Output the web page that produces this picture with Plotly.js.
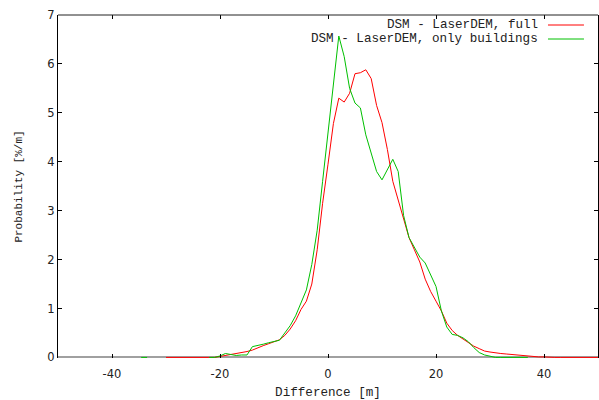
<!DOCTYPE html>
<html>
<head>
<meta charset="utf-8">
<script src="https://cdn.plot.ly/plotly-3.0.1.min.js"></script>
<style>html,body{margin:0;padding:0;background:#fff;}#chart{width:599px;height:400px;}</style>
</head>
<body>
<div id="chart"></div>
<script>
// Difference [m] (x) and probability [%/m] (y)
var fullX = [-30,-29,-28,-27,-26,-25,-24,-23,-22,-21,-20,-19,-18,-17,-16,-15,-14,-13,-12,-11,-10,-9,-8,-7,-6,-5,-4,-3,-2,-1,0,1,2,3,4,5,6,7,8,9,10,11,12,13,14,15,16,17,18,19,20,21,22,23,24,25,26,27,28,29,30,31,32,33,34,35,36,37,38,39,40,41,42,43,44,45,46,47,48,49,50];
var fullY = [0,0,0,0,0,0,0,0,0,0,0.02,0.04,0.06,0.08,0.09,0.12,0.15,0.2,0.24,0.28,0.32,0.36,0.45,0.58,0.75,0.98,1.15,1.5,2.2,3.15,3.95,4.78,5.3,5.22,5.4,5.8,5.82,5.88,5.7,5.15,4.8,4.25,3.6,3.2,2.8,2.45,2.2,1.95,1.6,1.35,1.15,0.95,0.7,0.55,0.45,0.38,0.3,0.23,0.18,0.13,0.11,0.09,0.08,0.07,0.06,0.04,0.03,0.02,0.02,0.01,0.01,0,0,0,0,0,0,0,0,0,0];
var bldX = [-34.6,-33.5,null,-22,-21,-20,-19,-18,-17,-16,-15,-14,-13,-12,-11,-10,-9,-8,-7,-6,-5,-4,-3,-2,-1,0,1,2,3,4,5,6,7,8,9,10,11,12,13,14,15,16,17,18,19,20,21,22,23,24,25,26,27,28,29,30,31,32,33,34,35,36,37];
var bldY = [0,0,null,0,0,0.03,0.08,0.06,0.04,0.05,0.05,0.22,0.24,0.27,0.3,0.33,0.35,0.5,0.65,0.85,1.1,1.38,1.9,2.6,3.6,4.6,5.6,6.57,6.15,5.5,5.2,5.1,4.55,4.15,3.8,3.63,3.85,4.05,3.8,2.9,2.45,2.25,2.05,1.93,1.7,1.45,0.95,0.62,0.47,0.45,0.4,0.32,0.2,0.1,0.05,0.02,0,0,0,0,0,0,0];
var seriesNames = ["DSM - LaserDEM, full", "DSM - LaserDEM, only buildings"];
var seriesColors = ["#ff0000", "#00c000"];
var xTickVals = [-40,-20,0,20,40];
var xTickText = ["-40","-20","0","20","40"];
var yTickVals = [0,1,2,3,4,5,6,7];

var traces = [
  {x: fullX, y: fullY, name: seriesNames[0], mode: "lines", line: {color: seriesColors[0], width: 1}, connectgaps: false, showlegend: false},
  {x: bldX, y: bldY, name: seriesNames[1], mode: "lines", line: {color: seriesColors[1], width: 1}, connectgaps: false, showlegend: false}
];

var monoFont = "'Liberation Mono', 'DejaVu Sans Mono', monospace";
var legX = 0.8926, legL0 = 0.9074, legL1 = 0.974, legY = [0.9708, 0.930];
var annotations = [], shapes = [];
for (var i = 0; i < seriesNames.length; i++) {
  annotations.push({xref: "paper", yref: "paper", x: legX, y: legY[i], text: seriesNames[i], showarrow: false,
    xanchor: "right", yanchor: "middle", font: {family: monoFont, size: 12.6, color: "#222"}});
  shapes.push({type: "line", xref: "paper", yref: "paper", x0: legL0, x1: legL1, y0: legY[i], y1: legY[i],
    line: {color: seriesColors[i], width: 1}});
}
shapes.push({type: "line", xref: "paper", yref: "paper", x0: 0, x1: 1, y0: 1, y1: 1, line: {color: "#222", width: 1}, layer: "above"});

var layout = {
  width: 599, height: 400,
  margin: {l: 58, r: 1, t: 15, b: 42, pad: 0},
  paper_bgcolor: "#fff", plot_bgcolor: "#fff",
  showlegend: false,
  xaxis: {range: [-50, 50], tickvals: xTickVals, ticktext: xTickText, ticks: "inside", ticklen: 4, tickcolor: "#000",
    showgrid: false, zeroline: false, showline: false, mirror: "ticks", ticklabelstandoff: 7,
    tickfont: {family: "'DejaVu Sans', sans-serif", size: 11.5, color: "#222"},
    title: {text: "Difference [m]", font: {family: monoFont, size: 12.6, color: "#222"}, standoff: 8}},
  yaxis: {range: [-0.012, 7], tickvals: yTickVals, ticks: "inside", ticklen: 4, tickcolor: "#000",
    showgrid: false, zeroline: true, zerolinecolor: "#a0a0a0", zerolinewidth: 2,
    showline: true, linecolor: "#000", linewidth: 1, mirror: "ticks",
    tickfont: {family: "'DejaVu Sans', sans-serif", size: 11.5, color: "#222"},
    title: {text: "Probability [%/m]", font: {family: monoFont, size: 11, color: "#222"}, standoff: 22}},
  annotations: annotations,
  shapes: shapes
};
Plotly.newPlot("chart", traces, layout, {displayModeBar: false, staticPlot: true});
</script>
</body>
</html>
